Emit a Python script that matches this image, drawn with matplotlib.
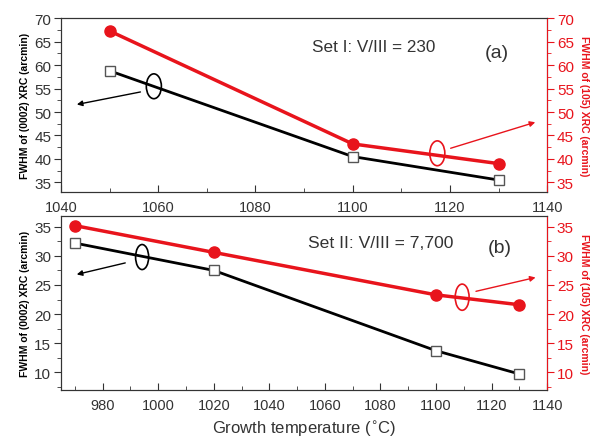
import matplotlib
matplotlib.use("Agg")
import matplotlib.pyplot as plt
from matplotlib.patches import Ellipse
from matplotlib.ticker import MultipleLocator

plt.rcParams['font.family'] = ['Liberation Sans', 'DejaVu Sans']

# ==========================
# Data
# ==========================
temp_a = [1050, 1100, 1130]
xrc0002_a = [58.8, 40.5, 35.5]
xrc105_a = [67.3, 43.2, 39.0]

temp_b = [970, 1020, 1100, 1130]
xrc0002_b = [32.2, 27.5, 13.7, 9.7]
xrc105_b = [35.2, 30.6, 23.3, 21.6]

RED = "#e8141c"
GRAY = "#333333"

fig = plt.figure(figsize=(5.98, 4.39), dpi=100)
ax_a = fig.add_axes([0.102, 0.561, 0.813, 0.395])
ax_b = fig.add_axes([0.102, 0.110, 0.813, 0.395])


def style_axes(ax, axr, xlim, ylim):
    ax.set_xlim(*xlim)
    ax.set_ylim(*ylim)
    axr.set_ylim(*ylim)
    ax.xaxis.set_major_locator(MultipleLocator(20))
    ax.xaxis.set_minor_locator(MultipleLocator(10))
    for a in (ax, axr):
        a.yaxis.set_major_locator(MultipleLocator(5))
        a.yaxis.set_minor_locator(MultipleLocator(2.5))
    ax.tick_params(axis="x", which="both", direction="in", top=False,
                   colors=GRAY, labelsize=10.5, pad=6)
    ax.tick_params(axis="x", which="major", length=5)
    ax.tick_params(axis="x", which="minor", length=3)
    ax.tick_params(axis="y", which="both", direction="out", colors=GRAY,
                   labelsize=11, pad=2)
    ax.tick_params(axis="y", which="major", length=5)
    ax.tick_params(axis="y", which="minor", length=3)
    axr.tick_params(axis="y", which="both", direction="out", colors=RED,
                    labelsize=11, pad=2)
    axr.tick_params(axis="y", which="major", length=5)
    axr.tick_params(axis="y", which="minor", length=3)
    for s in ("left", "bottom", "top"):
        ax.spines[s].set_color(GRAY)
        axr.spines[s].set_color(GRAY)
    axr.spines["right"].set_color(RED)
    ax.set_ylabel("FWHM of (0002) XRC (arcmin)", fontsize=7.5,
                  fontweight="bold", labelpad=3)
    axr.set_ylabel("FWHM of (105) XRC (arcmin)", fontsize=7.5,
                   fontweight="bold", color=RED, rotation=270, labelpad=11)


def draw_panel(ax, temps, black_vals, red_vals):
    axr = ax.twinx()
    ax.plot(temps, black_vals, color="black", lw=2, zorder=2)
    ax.plot(temps, black_vals, ls="none", marker="s", ms=7,
            mfc="white", mec="#555555", mew=1, zorder=3)
    axr.plot(temps, red_vals, color=RED, lw=2.5, marker="o", ms=8,
             mfc=RED, mec=RED)
    return axr


# ==========================
# Panel (a)
# ==========================
axr_a = draw_panel(ax_a, temp_a, xrc0002_a, xrc105_a)
style_axes(ax_a, axr_a, (1040, 1140), (33, 70))

ax_a.add_patch(Ellipse((1059.1, 55.5), 3.1, 5.3, fill=False,
                       ec="black", lw=1.2))
ax_a.annotate("", xy=(1042.7, 51.5), xytext=(1056.9, 54.4),
              arrowprops=dict(arrowstyle="-|>", color="black", lw=1,
                              mutation_scale=8))
axr_a.add_patch(Ellipse((1117.4, 41.2), 3.1, 5.3, fill=False,
                        ec=RED, lw=1.2))
axr_a.annotate("", xy=(1138.1, 48.0), xytext=(1119.6, 42.1),
               arrowprops=dict(arrowstyle="-|>", color=RED, lw=1,
                               mutation_scale=8))
ax_a.text(1091.6, 63.9, "Set I: V/III = 230", fontsize=12.3, color=GRAY,
          va="center", ha="left")
ax_a.text(1129.7, 62.8, "(a)", fontsize=14, color=GRAY,
          va="center", ha="center")

# ==========================
# Panel (b)
# ==========================
axr_b = draw_panel(ax_b, temp_b, xrc0002_b, xrc105_b)
style_axes(ax_b, axr_b, (965, 1140), (7, 36.8))

ax_b.add_patch(Ellipse((994.2, 29.8), 4.7, 4.3, fill=False,
                       ec="black", lw=1.2))
ax_b.annotate("", xy=(969.7, 26.7), xytext=(989.1, 28.9),
              arrowprops=dict(arrowstyle="-|>", color="black", lw=1,
                              mutation_scale=8))
axr_b.add_patch(Ellipse((1109.4, 22.9), 5.0, 4.5, fill=False,
                        ec=RED, lw=1.2))
axr_b.annotate("", xy=(1136.8, 26.4), xytext=(1113.4, 23.8),
               arrowprops=dict(arrowstyle="-|>", color=RED, lw=1,
                               mutation_scale=8))
ax_b.text(1053.9, 32.3, "Set II: V/III = 7,700", fontsize=12.6, color=GRAY,
          va="center", ha="left")
ax_b.text(1123, 31.5, "(b)", fontsize=14, color=GRAY,
          va="center", ha="center")

ax_b.set_xlabel("Growth temperature ($^{\\circ}$C)", fontsize=12,
                color=GRAY, labelpad=4)

fig.savefig("out.png", dpi=100)
